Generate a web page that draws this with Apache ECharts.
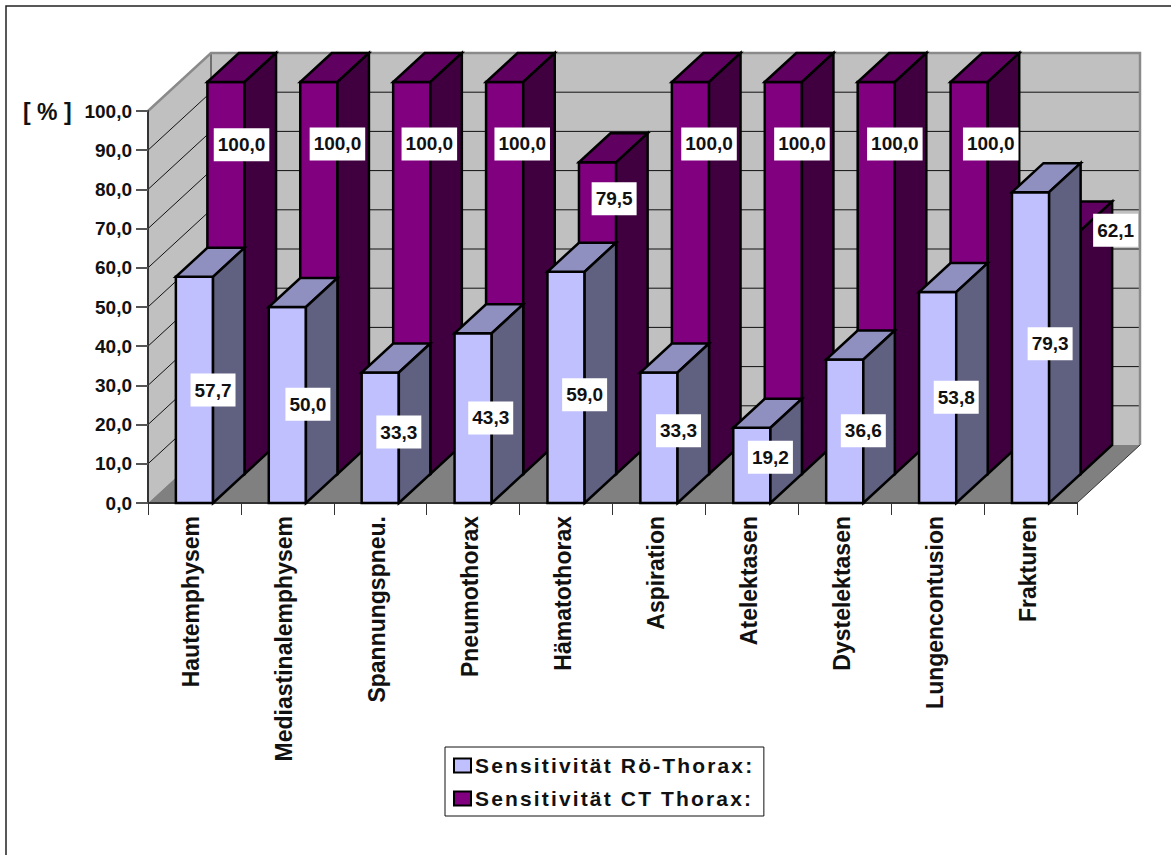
<!DOCTYPE html>
<html>
<head>
<meta charset="utf-8">
<style>
html, body { margin: 0; padding: 0; background: #fff; overflow: hidden; }
#chart { width: 1171px; height: 855px; }
/* the legend captions are set with wider tracking */
#chart text[style*="21px"] { letter-spacing: 2.15px; }
</style>
<script src="https://cdn.jsdelivr.net/npm/echarts@6/dist/echarts.min.js"></script>
</head>
<body>
<div id="chart"></div>
<script>
const categories = ['Hautemphysem', 'Mediastinalemphysem', 'Spannungspneu.', 'Pneumothorax', 'Hämatothorax',
  'Aspiration', 'Atelektasen', 'Dystelektasen', 'Lungencontusion', 'Frakturen'];
const roentgen = [57.7, 50.0, 33.3, 43.3, 59.0, 33.3, 19.2, 36.6, 53.8, 79.3];
const ct = [100.0, 100.0, 100.0, 100.0, 79.5, 100.0, 100.0, 100.0, 100.0, 62.1];
const tickValues = [10, 20, 30, 40, 50, 60, 70, 80, 90, 100];

// Axis level at which each value box is centred, on the front plane of the chart.
const roentgenLabelLevels = [28.8, 25.2, 18.1, 21.7, 27.6, 18.4, 11.7, 18.4, 27.0, 40.6];
const ctLabelLevels = [91.4, 91.6, 91.6, 91.6, 77.6, 91.6, 91.6, 91.6, 91.6, 69.6];
// Hand-placed sideways nudges of the value boxes.
const roentgenLabelShift = [0, 2, 0, -1, 0, 1, 0, 0, 0, 1];
const ctLabelShift = [-3, 0, -1, -1, -2, 0, 0, 0, 3, 35];

const ROE_NAME = 'Sensitivität Rö-Thorax:';
const CT_NAME = 'Sensitivität CT Thorax:';
const FONT = '"Liberation Sans", Arial, sans-serif';

// Each data row occupies one depth slot; the chart box is two slots deep.
const SLOT_DX = 31.5, SLOT_DY = -29;
const BAR_SHARE = 0.4;

const fmt = v => v.toFixed(1).replace('.', ',');

const poly = (points, fill, stroke, lineWidth) => ({
  type: 'polygon',
  shape: { points },
  style: { fill, stroke: stroke || 'none', lineWidth: lineWidth || 0, lineJoin: 'miter' }
});
const seg = (a, b, stroke, lineWidth) => ({
  type: 'line',
  shape: { x1: a[0], y1: a[1], x2: b[0], y2: b[1] },
  style: { stroke, lineWidth }
});

// Walls and floor of the box, built from the plot rectangle.
function renderBox(params) {
  const c = params.coordSys;
  const dx = SLOT_DX * 2, dy = SLOT_DY * 2;
  const l = c.x, r = c.x + c.width, t = c.y, b = c.y + c.height;
  return {
    type: 'group',
    children: [
      poly([[l, t], [l + dx, t + dy], [l + dx, b + dy], [l, b]], '#C0C0C0'),
      poly([[l + dx, t + dy], [r + dx, t + dy], [r + dx, b + dy], [l + dx, b + dy]], '#C0C0C0'),
      poly([[l, b], [l + dx, b + dy], [r + dx, b + dy], [r, b]], '#808080'),
      seg([r, b], [r + dx, b + dy], '#333', 1)
    ]
  };
}

// One gridline: up the side wall, then along the back wall.
function renderGridline(params, api) {
  const v = api.value(0);
  const c = params.coordSys;
  const y = api.coord([0, v])[1];
  const dx = SLOT_DX * 2, dy = SLOT_DY * 2;
  return {
    type: 'group',
    children: [
      seg([c.x, y], [c.x + dx, y + dy], '#111', 1),
      seg([c.x + dx, y + dy], [c.x + c.width + dx, y + dy], '#111', 1)
    ]
  };
}

// The rim of the box sits on top of the gridlines.
function renderRim(params) {
  const c = params.coordSys;
  const dx = SLOT_DX * 2, dy = SLOT_DY * 2;
  const l = c.x, r = c.x + c.width, t = c.y, b = c.y + c.height;
  return {
    type: 'polyline',
    shape: { points: [[l, t], [l + dx, t + dy], [r + dx, t + dy], [r + dx, b + dy]] },
    style: { fill: 'none', stroke: '#8A8A8A', lineWidth: 2.5 }
  };
}
function renderRimInner(params) {
  const c = params.coordSys;
  const dx = SLOT_DX * 2, dy = SLOT_DY * 2;
  return seg([c.x + dx, c.y + dy], [c.x + dx, c.y + c.height + dy], '#707070', 2);
}

// A box-shaped column standing in the given depth slot.
function columnRenderer(slot, front, top, side) {
  return function (params, api) {
    const i = api.value(0);
    const base = api.coord([i, 0]);
    const head = api.coord([i, api.value(1)]);
    const w = api.size([1, 0])[0] * BAR_SHARE;
    const x0 = base[0] - w / 2 + SLOT_DX * slot;
    const x1 = x0 + w;
    const yb = base[1] + SLOT_DY * slot;
    const yt = head[1] + SLOT_DY * slot;
    const dx = SLOT_DX, dy = SLOT_DY;
    return {
      type: 'group',
      children: [
        poly([[x0, yb], [x1, yb], [x1, yt], [x0, yt]], front, '#000', 2.5),
        poly([[x0, yt], [x1, yt], [x1 + dx, yt + dy], [x0 + dx, yt + dy]], top, '#000', 2.5),
        poly([[x1, yb], [x1 + dx, yb + dy], [x1 + dx, yt + dy], [x1, yt]], side, '#000', 2.5)
      ]
    };
  };
}

// White value box centred near the right edge of a column's front face.
function labelRenderer(slot, shifts) {
  return function (params, api) {
    const i = api.value(0);
    const p = api.coord([i, api.value(2)]);
    const w = api.size([1, 0])[0] * BAR_SHARE;
    return {
      type: 'text',
      x: p[0] + w / 2 + SLOT_DX * slot + shifts[i],
      y: p[1],
      style: {
        text: fmt(api.value(1)),
        font: 'bold 19px ' + FONT,
        fill: '#111',
        align: 'center',
        verticalAlign: 'middle',
        backgroundColor: '#fff',
        padding: [7, 4, 7, 4]
      }
    };
  };
}

const rows = (values, levels) => values.map((v, i) => [i, v, levels[i]]);

const chart = echarts.init(document.getElementById('chart'), null, { renderer: 'svg' });
chart.setOption({
  animation: false,
  backgroundColor: '#fff',
  grid: { left: 148, top: 111, width: 929, height: 392, containLabel: false },
  xAxis: {
    type: 'category',
    data: categories,
    z: 3,
    axisLine: { lineStyle: { color: '#333', width: 2 } },
    axisTick: { show: true, length: 12, alignWithLabel: false, lineStyle: { color: '#333', width: 1 } },
    axisLabel: { rotate: 90, interval: 0, margin: 13, color: '#111', fontFamily: FONT, fontWeight: 'bold', fontSize: 23, verticalAlign: 'bottom', lineHeight: 6 },
    splitLine: { show: false }
  },
  yAxis: {
    type: 'value',
    min: 0,
    max: 100,
    interval: 10,
    z: 3,
    axisLine: { show: true, lineStyle: { color: '#333', width: 2 } },
    axisTick: { show: true, length: 12, lineStyle: { color: '#555', width: 2 } },
    axisLabel: { margin: 16, color: '#111', fontFamily: FONT, fontWeight: 'bold', fontSize: 19, formatter: fmt },
    splitLine: { show: false }
  },
  legend: {
    orient: 'vertical',
    left: 445,
    top: 747,
    icon: 'rect',
    itemWidth: 17,
    itemHeight: 14,
    itemGap: 12,
    padding: [8, 59, 7, 8],
    backgroundColor: '#fff',
    borderColor: '#111',
    borderWidth: 1,
    borderRadius: 0,
    selectedMode: false,
    textStyle: { fontFamily: FONT, fontWeight: 'bold', fontSize: 21, color: '#111', padding: [0, 0, 0, -1] },
    data: [ROE_NAME, CT_NAME]
  },
  graphic: [
    {
      // the frame runs off the page on its right and bottom sides
      type: 'rect',
      silent: true,
      z: 0,
      shape: { x: 6, y: 6, width: 1180, height: 860 },
      style: { fill: 'none', stroke: '#222', lineWidth: 1.5 }
    },
    {
      type: 'text',
      x: 23,
      y: 112,
      z: 5,
      style: { text: '[ % ]', font: 'bold 23px ' + FONT, fill: '#111', verticalAlign: 'middle' }
    }
  ],
  series: [
    { type: 'custom', name: 'box', z: 1, clip: false, silent: true, renderItem: renderBox, data: [[0]] },
    { type: 'custom', name: 'gridlines', z: 1, clip: false, silent: true, renderItem: renderGridline,
      encode: { y: 0 }, data: tickValues.map(v => [v]) },
    { type: 'custom', name: 'rim', z: 1, clip: false, silent: true, renderItem: renderRimInner, data: [[0]] },
    { type: 'custom', name: 'rim2', z: 1, clip: false, silent: true, renderItem: renderRim, data: [[0]] },
    { type: 'custom', name: CT_NAME, z: 4, clip: false,
      itemStyle: { color: '#800080', borderColor: '#000', borderWidth: 2 },
      renderItem: columnRenderer(1, '#800080', '#600060', '#400040'),
      encode: { x: 0, y: 1 }, data: rows(ct, ctLabelLevels) },
    { type: 'custom', name: ROE_NAME, z: 5, clip: false,
      itemStyle: { color: '#C0C0FF', borderColor: '#000', borderWidth: 2 },
      renderItem: columnRenderer(0, '#C0C0FF', '#9090C0', '#606080'),
      encode: { x: 0, y: 1 }, data: rows(roentgen, roentgenLabelLevels) },
    { type: 'custom', name: 'ct values', z: 6, clip: false, silent: true,
      renderItem: labelRenderer(1, ctLabelShift), encode: { x: 0, y: 2 }, data: rows(ct, ctLabelLevels) },
    { type: 'custom', name: 'roentgen values', z: 6, clip: false, silent: true,
      renderItem: labelRenderer(0, roentgenLabelShift), encode: { x: 0, y: 2 }, data: rows(roentgen, roentgenLabelLevels) }
  ]
});
</script>
</body>
</html>
